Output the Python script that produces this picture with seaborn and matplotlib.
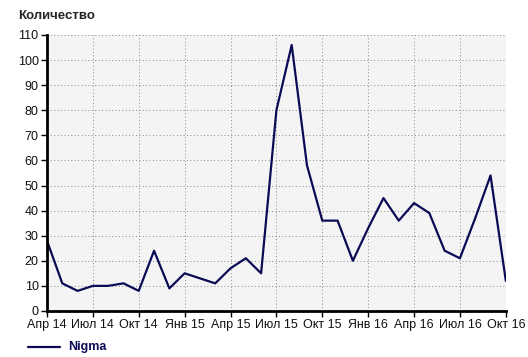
import numpy as np
import pandas as pd
import matplotlib
matplotlib.use('Agg')
import matplotlib.pyplot as plt
import seaborn as sns

# monthly values, Apr 2014 .. Oct 2016
months = ["Апр 14", "Май 14", "Июн 14", "Июл 14", "Авг 14", "Сен 14", "Окт 14", "Ноя 14", "Дек 14",
          "Янв 15", "Фев 15", "Мар 15", "Апр 15", "Май 15", "Июн 15", "Июл 15", "Авг 15", "Сен 15",
          "Окт 15", "Ноя 15", "Дек 15", "Янв 16", "Фев 16", "Мар 16", "Апр 16", "Май 16", "Июн 16",
          "Июл 16", "Авг 16", "Сен 16", "Окт 16"]
nigma = [28, 11, 8, 10, 10, 11, 8, 24, 9,
         15, 13, 11, 17, 21, 15, 80, 106, 58,
         36, 36, 20, 33, 45, 36, 43, 39, 24,
         21, 37, 54, 12]
tick_pos = [0, 3, 6, 9, 12, 15, 18, 21, 24, 27, 30]
yticks = list(range(0, 111, 10))

df = pd.DataFrame({"idx": range(len(months)), "month": months, "value": nigma})

sns.set_style("white")
plt.rcParams['font.family'] = ['Liberation Sans', 'DejaVu Sans']

fig = plt.figure(figsize=(5.28, 3.57), dpi=100)
ax = fig.add_axes([0.089, 0.129, 0.869, 0.773])
ax.set_facecolor("#f4f4f4")

sns.lineplot(data=df, x="idx", y="value", color="#0a0a55", linewidth=1.6, ax=ax, legend=False)

ax.set_xlim(0, 30)
ax.set_ylim(0, 110)
ax.set_xticks(tick_pos)
ax.set_xticklabels([months[i] for i in tick_pos])
ax.set_yticks(yticks)
ax.grid(True, color="#888888", linestyle=(0, (1, 2.5)), linewidth=0.7)
ax.set_axisbelow(True)
ax.set_xlabel("")
ax.set_ylabel("")

for s in ["top", "right"]:
    ax.spines[s].set_visible(False)
for s in ["left", "bottom"]:
    ax.spines[s].set_color("black")
    ax.spines[s].set_linewidth(2)
ax.tick_params(axis="both", direction="out", length=4, width=1, color="black",
               labelsize=9, labelcolor="#111111", pad=2, bottom=True, left=True)

fig.text(0.034, 0.955, "Количество", fontsize=9.5, fontweight="bold", va="center", ha="left")

# legend
fig.lines.append(plt.Line2D([0.053, 0.114], [0.028, 0.028], transform=fig.transFigure,
                            color="#0a0a55", linewidth=1.6))
fig.text(0.129, 0.028, "Nigma", fontsize=9, fontweight="bold", color="#0a0a55", va="center", ha="left")

fig.savefig("out.png", dpi=100)
